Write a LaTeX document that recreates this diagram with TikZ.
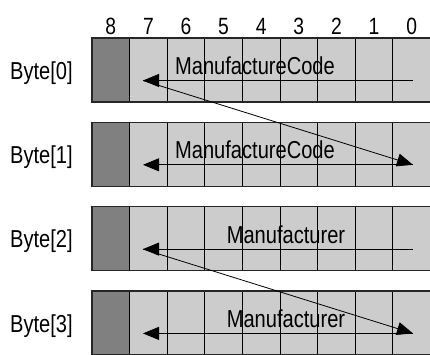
\documentclass[tikz,border=0pt]{standalone}
\usepackage{fontspec}
\setmainfont{Liberation Sans}[FakeStretch=0.82]
\usetikzlibrary{arrows.meta}
\definecolor{lightcell}{HTML}{CCCCCC}
\definecolor{darkcell}{HTML}{808080}
\begin{document}
\begin{tikzpicture}[x=1pt,y=-1pt,
  cell/.style={draw=black, line width=0.9pt, fill=lightcell, minimum width=37.6pt,
    minimum height=64pt, inner sep=0pt, outer sep=0pt, anchor=north west},
  paritycell/.style={cell, fill=darkcell},
  rowframe/.style={draw=black!85, line width=1.4pt},
  txt/.style={inner sep=0pt, font=\fontsize{24.5}{29}\selectfont},
  bytelabel/.style={txt, anchor=base west},
  headlabel/.style={txt, anchor=base, font=\fontsize{23.5}{28}\selectfont},
  field/.style={txt, anchor=base},
  flow/.style={line width=0.8pt, -{Triangle[length=16pt,width=13pt]}}]
\useasboundingbox (0,0) rectangle (430,354);

% bit numbers above the columns
\foreach \b in {8,...,0}
  \node[headlabel] (h\b) at ({92+(8-\b)*37.6+18.8},34) {\b};

% four byte rows: a dark bit-8 cell followed by bits 7..0
\foreach \r/\top in {0/38,1/122.3,2/206.6,3/290.9} {
  \node[paritycell] (c\r-8) at (92,\top) {};
  \foreach \b in {7,...,0} {
    \pgfmathsetmacro\cx{92+(8-\b)*37.6}
    \node[cell] (c\r-\b) at (\cx,\top) {};
  }
  \draw[rowframe] (c\r-8.north west) rectangle (c\r-0.south east);
  \node[bytelabel] (lab\r) at (10,{\top+41.3}) {Byte[\r]};
  \coordinate (tip\r) at (143,{\top+42.5});
  \coordinate (end\r) at (413,{\top+42.5});
}

% field names
\node[field] (f0) at (255,74) {ManufactureCode};
\node[field] (f1) at (255,158.3) {ManufactureCode};
\node[field] (f2) at (286,243.6) {Manufacturer};
\node[field] (f3) at (286,327.9) {Manufacturer};

% bit order within and across bytes
\draw[flow] (end0) -- (tip0);
\draw[flow] (tip0) -- (end1);
\draw[flow] (end1) -- (tip1);
\draw[flow] (end2) -- (tip2);
\draw[flow] (tip2) -- (end3);
\draw[flow] (end3) -- (tip3);
\end{tikzpicture}
\end{document}
